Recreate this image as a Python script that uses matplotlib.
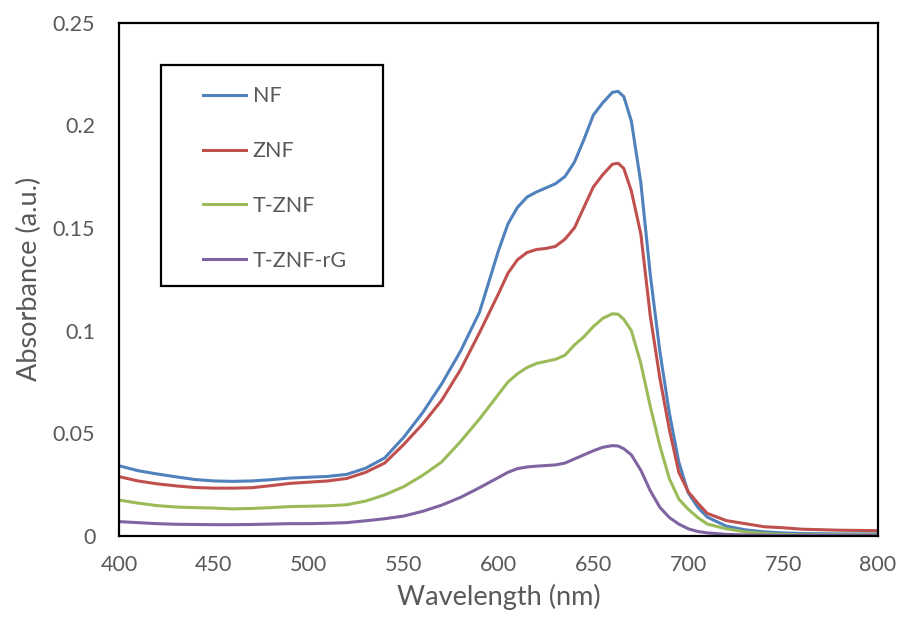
import numpy as np
import matplotlib
matplotlib.use("Agg")
import matplotlib.pyplot as plt
from matplotlib.patches import Rectangle

plt.rcParams['font.family'] = ['Lato', 'DejaVu Sans']

# ---------- DATA ----------
wavelength = [400, 410, 420, 430, 440, 450, 460, 470, 480, 490, 500, 510, 520, 530, 540,
              550, 560, 570, 580, 590, 600, 605, 610, 615, 620, 625, 630, 635, 640, 645,
              650, 655, 660, 663, 666, 670, 675, 680, 685, 690, 695, 700, 705, 710, 720,
              730, 740, 750, 760, 780, 800]

nf = [.0342, .0318, .0302, .0288, .0275, .0268, .0266, .0268, .0274, .0282, .0286, .0290,
      .0300, .0330, .0380, .0480, .0600, .0740, .0900, .1090, .1390, .1520, .1600, .1650,
      .1675, .1695, .1715, .1750, .1820, .1930, .2050, .2110, .2160, .2165, .2140, .2020,
      .1720, .1270, .0900, .0600, .0360, .0210, .0140, .0092, .0048, .0030, .0020, .0015,
      .0012, .0010, .0010]

znf = [.0289, .0268, .0254, .0244, .0236, .0233, .0233, .0235, .0245, .0256, .0262, .0268,
       .0280, .0310, .0355, .0445, .0545, .0660, .0810, .0990, .1180, .1280, .1345, .1380,
       .1395, .1400, .1410, .1445, .1500, .1600, .1700, .1760, .1810, .1815, .1790, .1680,
       .1470, .1070, .0770, .0520, .0310, .0215, .0160, .0110, .0075, .0060, .0045, .0040,
       .0033, .0028, .0026]

t_znf = [.0175, .0160, .0148, .0141, .0138, .0136, .0132, .0134, .0138, .0143, .0145, .0147,
         .0152, .0170, .0200, .0240, .0295, .0360, .0460, .0570, .0690, .0750, .0790, .0820,
         .0840, .0850, .0860, .0880, .0930, .0970, .1020, .1060, .1082, .1080, .1055, .1000,
         .0840, .0630, .0440, .0280, .0180, .0130, .0090, .0058, .0035, .0020, .0012, .0008,
         .0006, .0005, .0005]

t_znf_rg = [.0070, .0065, .0060, .0057, .0056, .0055, .0055, .0056, .0058, .0060, .0060, .0062,
            .0065, .0074, .0084, .0097, .0120, .0150, .0188, .0235, .0285, .0310, .0328, .0336,
            .0340, .0343, .0346, .0355, .0375, .0395, .0415, .0432, .0440, .0438, .0425, .0395,
            .0320, .0220, .0140, .0090, .0058, .0035, .0022, .0015, .0008, .0005, .0004, .0003,
            .0003, .0002, .0002]

labels = ["NF", "ZNF", "T-ZNF", "T-ZNF-rG"]
colors = ["#4F81BD", "#C0504D", "#9BBB59", "#8064A2"]

x_ticks = [400, 450, 500, 550, 600, 650, 700, 750, 800]
y_ticks = [0, 0.05, 0.1, 0.15, 0.2, 0.25]
y_ticklabels = ["0", "0.05", "0.1", "0.15", "0.2", "0.25"]

# ---------- PLOT ----------
fig = plt.figure(figsize=(9, 6.26), dpi=100)
ax = fig.add_axes([0.1322, 0.1438, 0.8434, 0.8202])

for y, lab, c in zip([nf, znf, t_znf, t_znf_rg], labels, colors):
    ax.plot(wavelength, y, color=c, lw=2.2, label=lab)

ax.set_xlim(400, 800)
ax.set_ylim(0, 0.25)
ax.set_xticks(x_ticks)
ax.set_yticks(y_ticks)
ax.set_yticklabels(y_ticklabels)

gray = "#595959"
ax.tick_params(length=0, labelsize=15.5, colors=gray)
ax.tick_params(axis="y", pad=17)
ax.tick_params(axis="x", pad=14)
for s in ax.spines.values():
    s.set_linewidth(1.6)
    s.set_color("black")

ax.set_xlabel("Wavelength (nm)", fontsize=19.5, color=gray, labelpad=6)
ax.set_ylabel("Absorbance (a.u.)", fontsize=19.5, color=gray, labelpad=8)

# legend box
ax.add_patch(Rectangle((0.0553, 0.487), 0.2925, 0.430, transform=ax.transAxes,
                       fill=False, edgecolor="black", lw=1.6, zorder=5))
leg = ax.legend(loc="upper left", bbox_to_anchor=(0.1107, 0.876), frameon=False,
                fontsize=15.5, handlelength=2.0, handletextpad=0.3,
                labelspacing=1.62, borderpad=0, borderaxespad=0)
for t in leg.get_texts():
    t.set_color(gray)

fig.savefig("out.png", dpi=100)
